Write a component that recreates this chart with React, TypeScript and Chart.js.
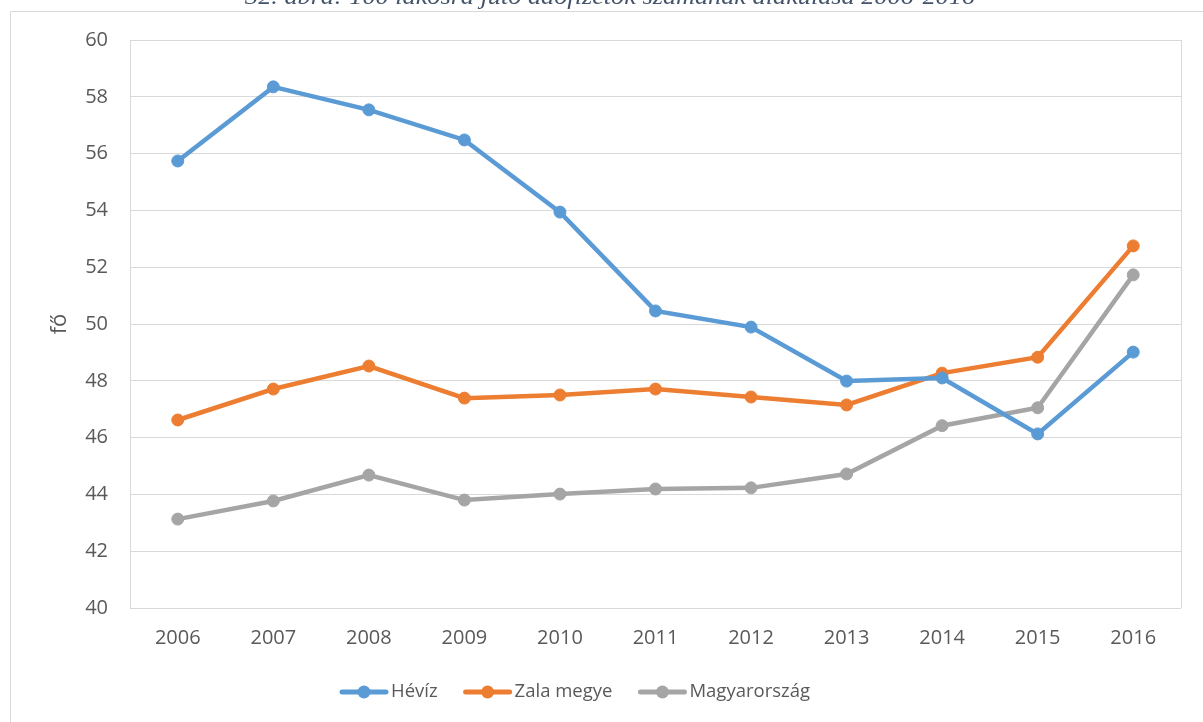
import React, { useEffect, useRef } from "react";
import { Chart, registerables } from "chart.js";

Chart.register(...registerables);

const TITLE = "32. ábra: 100 lakosra jutó adófizetők számának alakulása 2006-2016";
const Y_TITLE = "fő";
const YEARS = ["2006", "2007", "2008", "2009", "2010", "2011", "2012", "2013", "2014", "2015", "2016"];
const HEVIZ = [55.74, 58.35, 57.54, 56.48, 53.94, 50.46, 49.89, 47.99, 48.1, 46.13, 49.01];
const ZALA = [46.62, 47.71, 48.52, 47.39, 47.5, 47.71, 47.43, 47.15, 48.27, 48.83, 52.75];
const MAGYAR = [43.13, 43.77, 44.68, 43.8, 44.01, 44.19, 44.23, 44.72, 46.42, 47.05, 51.73];
const SERIES_NAMES = ["Hévíz", "Zala megye", "Magyarország"];
const COLORS = ["#5B9BD5", "#ED7D31", "#A5A5A5"];

const GRID = "#D9D9D9";
const TEXT = "#595959";
const FONT = "'Open Sans', sans-serif";

const decorPlugin = {
  id: "decor",
  beforeDraw(chart: any) {
    const ctx = chart.ctx;
    ctx.save();
    // outer frame (top and left visible)
    ctx.strokeStyle = GRID;
    ctx.lineWidth = 1;
    ctx.beginPath();
    ctx.moveTo(10.5, 722);
    ctx.lineTo(10.5, 11.5);
    ctx.lineTo(1203, 11.5);
    ctx.stroke();
    // clipped caption
    ctx.fillStyle = "#44546A";
    ctx.font = "italic 24px 'Liberation Serif', serif";
    ctx.textBaseline = "alphabetic";
    ctx.textAlign = "left";
    const w = ctx.measureText(TITLE).width;
    const sx = 730 / w;
    ctx.translate(245, 4);
    ctx.scale(sx, 1);
    ctx.fillText(TITLE, 0, 0);
    ctx.restore();
  },
  afterDraw(chart: any) {
    const ctx = chart.ctx;
    const a = chart.chartArea;
    ctx.save();
    ctx.strokeStyle = GRID;
    ctx.lineWidth = 1;
    ctx.beginPath();
    ctx.moveTo(Math.round(a.right) + 0.5, a.top);
    ctx.lineTo(Math.round(a.right) + 0.5, a.bottom);
    ctx.stroke();

    // legend
    ctx.font = "18.5px " + FONT;
    ctx.textBaseline = "middle";
    ctx.textAlign = "left";
    const cy = 692;
    let x = 340;
    SERIES_NAMES.forEach((name, i) => {
      ctx.strokeStyle = COLORS[i];
      ctx.fillStyle = COLORS[i];
      ctx.lineWidth = 5;
      ctx.lineCap = "round";
      ctx.beginPath();
      ctx.moveTo(x + 2, cy);
      ctx.lineTo(x + 46, cy);
      ctx.stroke();
      ctx.beginPath();
      ctx.arc(x + 24, cy, 6.5, 0, Math.PI * 2);
      ctx.fill();
      ctx.fillStyle = TEXT;
      ctx.fillText(name, x + 51, cy);
      x += 51 + ctx.measureText(name).width + 26;
    });
    ctx.restore();
  },
};

export default function App() {
  const ref = useRef<HTMLCanvasElement | null>(null);
  useEffect(() => {
    if (!ref.current) return;
    const series = [HEVIZ, ZALA, MAGYAR];
    const chart = new Chart(ref.current, {
      type: "line",
      data: {
        labels: YEARS,
        datasets: series.map((d, i) => ({
          label: SERIES_NAMES[i],
          data: d,
          borderColor: COLORS[i],
          backgroundColor: COLORS[i],
          pointBackgroundColor: COLORS[i],
          pointBorderColor: COLORS[i],
          borderWidth: 4.5,
          pointRadius: 6,
          pointBorderWidth: 1,
          tension: 0,
          fill: false,
        })),
      },
      options: {
        animation: false,
        responsive: false,
        maintainAspectRatio: false,
        layout: { padding: { top: 40, right: 22, bottom: 0, left: 47 } },
        plugins: {
          legend: { display: false },
          tooltip: { enabled: false },
          title: { display: false },
        },
        scales: {
          x: {
            type: "category",
            offset: true,
            grid: { display: false, drawTicks: false },
            border: { display: false },
            ticks: { color: TEXT, font: { family: FONT, size: 20 }, padding: 18, maxRotation: 0 },
            afterFit: (s: any) => {
              s.height = 114;
            },
          },
          y: {
            min: 40,
            max: 60,
            grid: { color: GRID, lineWidth: 1, drawTicks: false },
            border: { display: true, color: GRID, width: 1 },
            ticks: { stepSize: 2, color: TEXT, font: { family: FONT, size: 20 }, padding: 22 },
            title: {
              display: true,
              text: Y_TITLE,
              color: TEXT,
              font: { family: FONT, size: 22 },
              padding: 0,
            },
            afterFit: (s: any) => {
              s.width = 83;
            },
          },
        },
      },
      plugins: [decorPlugin],
    });
    return () => chart.destroy();
  }, []);
  return (
    <div style={{ position: "absolute", left: 0, top: 0, width: 1203, height: 722, background: "#fff" }}>
      <canvas ref={ref} width={1203} height={722} style={{ display: "block" }} />
    </div>
  );
}
